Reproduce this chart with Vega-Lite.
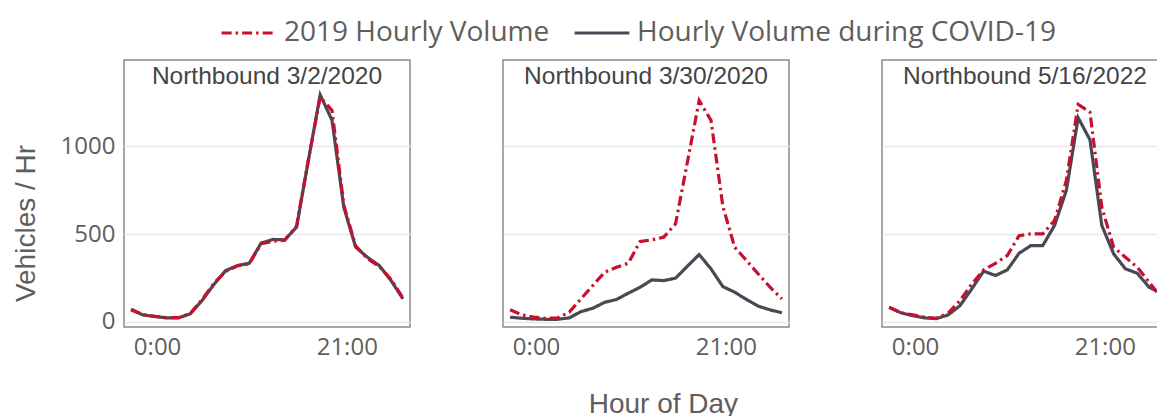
{
  "$schema": "https://vega.github.io/schema/vega-lite/v6.json",
  "background": "white",
  "padding": {"left": 12, "top": 4, "right": 0, "bottom": 0},
  "title": {"text": "Hour of Day", "orient": "bottom", "anchor": "middle", "fontSize": 28, "font": "Liberation Sans", "fontWeight": "normal", "color": "#605E5C", "offset": 32, "dx": 73},
  "datasets": {
    "raw": [
      {"panel": "Northbound 3/2/2020", "series": "Hourly Volume during COVID-19", "v": [67,38,29,21,21,44,120,211,291,320,333,448,469,467,539,920,1295,1150,653,425,367,320,234,130]},
      {"panel": "Northbound 3/2/2020", "series": "2019 Hourly Volume", "v": [70,40,30,23,22,46,125,218,286,318,330,445,458,465,545,925,1282,1206,665,432,360,315,240,135]},
      {"panel": "Northbound 3/30/2020", "series": "Hourly Volume during COVID-19", "v": [25,19,15,13,13,21,57,76,110,126,162,196,238,234,248,316,383,301,200,168,126,88,67,50]},
      {"panel": "Northbound 3/30/2020", "series": "2019 Hourly Volume", "v": [67,38,25,19,21,53,130,206,282,310,333,457,467,482,558,910,1263,1149,660,425,349,272,196,130]},
      {"panel": "Northbound 5/16/2022", "series": "Hourly Volume during COVID-19", "v": [82,50,34,21,17,38,91,187,288,263,295,390,434,434,549,749,1164,1038,549,387,301,276,196,164]},
      {"panel": "Northbound 5/16/2022", "series": "2019 Hourly Volume", "v": [82,50,38,25,19,48,120,215,295,333,377,491,501,501,577,806,1240,1196,653,425,367,310,225,139]}
    ]
  },
  "data": {"name": "raw"},
  "transform": [
    {"flatten": ["v"], "as": ["vph"]},
    {"window": [{"op": "row_number", "as": "rn"}], "groupby": ["panel", "series"]},
    {"calculate": "datum.rn - 1", "as": "hour"}
  ],
  "spacing": 91,
  "facet": {
    "column": {
      "field": "panel",
      "type": "nominal",
      "sort": ["Northbound 3/2/2020", "Northbound 3/30/2020", "Northbound 5/16/2022"],
      "title": null,
      "header": {"labelOrient": "top", "labelPadding": -30, "labelFont": "Liberation Sans", "labelFontSize": 24.5, "labelColor": "#444444"}
    }
  },
  "spec": {
    "width": 286,
    "height": 267,
    "mark": {"type": "line", "strokeWidth": 3.2},
    "encoding": {
      "x": {
        "field": "hour",
        "type": "quantitative",
        "scale": {"domain": [-0.6, 23.6], "nice": false, "zero": false},
        "axis": {"values": [2.2, 18.25], "labelExpr": "datum.value < 10 ? '0:00' : '21:00'", "grid": false, "ticks": false, "domain": false, "labelPadding": 7, "labelFontSize": 24, "labelFont": "Open Sans", "labelColor": "#605E5C"},
        "title": null
      },
      "y": {
        "field": "vph",
        "type": "quantitative",
        "scale": {"domain": [-31, 1494], "nice": false, "zero": false},
        "axis": {"values": [0, 500, 1000], "format": "d", "grid": true, "gridColor": "#E8E8E8", "gridWidth": 1.5, "ticks": false, "domain": false, "labelPadding": 8, "labelFontSize": 24, "labelFont": "Open Sans", "labelColor": "#605E5C", "titlePadding": 20, "titleFontSize": 28, "titleFont": "Liberation Sans", "titleFontWeight": "normal", "titleColor": "#605E5C", "titleY": 163},
        "title": "Vehicles / Hr"
      },
      "color": {
        "field": "series",
        "type": "nominal",
        "scale": {"domain": ["2019 Hourly Volume", "Hourly Volume during COVID-19"], "range": ["#C8102E", "#474A54"]},
        "legend": {"title": null, "orient": "none", "direction": "horizontal", "legendX": 96, "legendY": -56, "symbolType": "stroke", "symbolSize": 3000, "symbolStrokeWidth": 3.2, "labelFontSize": 28, "labelFont": "Open Sans", "labelColor": "#605E5C", "columnPadding": 18, "labelOffset": 6, "labelLimit": 0}
      },
      "strokeDash": {
        "field": "series",
        "type": "nominal",
        "scale": {"domain": ["2019 Hourly Volume", "Hourly Volume during COVID-19"], "range": [[10, 4, 2.5, 4], [1, 0]]},
        "legend": {"title": null, "orient": "none", "direction": "horizontal", "legendX": 96, "legendY": -56, "symbolType": "stroke", "symbolSize": 3000, "symbolStrokeWidth": 3.2, "labelFontSize": 28, "labelFont": "Open Sans", "labelColor": "#605E5C", "columnPadding": 18, "labelOffset": 6, "labelLimit": 0}
      }
    }
  },
  "config": {
    "view": {"stroke": "#8A8A8A", "strokeWidth": 1.5}
  }
}
